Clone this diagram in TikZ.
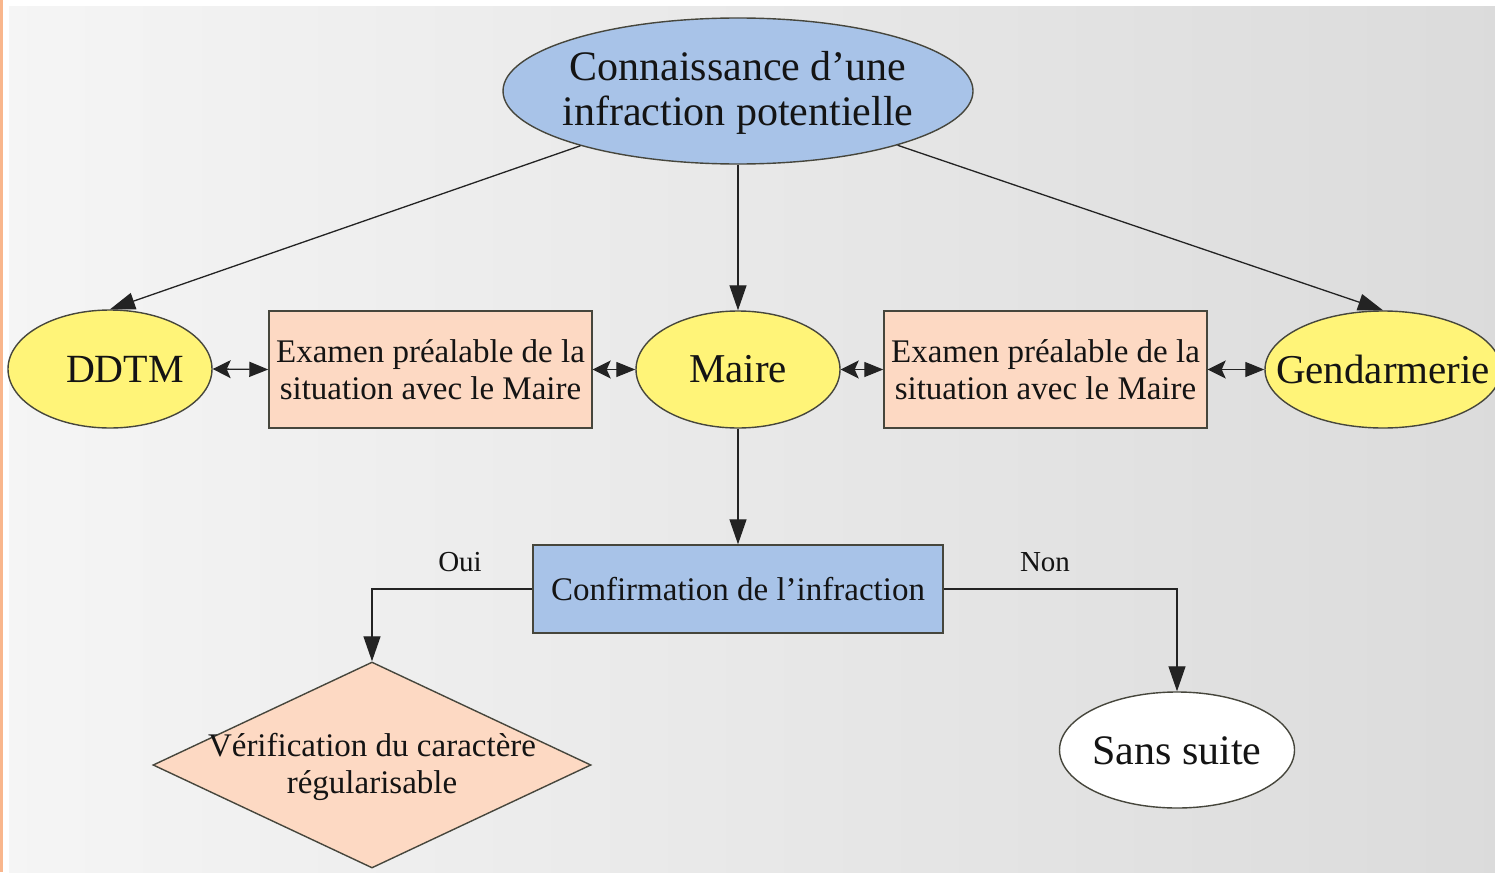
\documentclass[tikz,border=0pt]{standalone}
\usepackage{fontspec}
\setmainfont{Liberation Serif}
\usetikzlibrary{shapes.geometric,arrows.meta}
\definecolor{bluefill}{RGB}{168,195,232}
\definecolor{yellowfill}{RGB}{255,244,120}
\definecolor{peachfill}{RGB}{253,217,195}
\definecolor{edgecol}{RGB}{70,70,60}
\definecolor{linecol}{RGB}{35,35,35}
\definecolor{textcol}{RGB}{20,20,20}
\definecolor{bordercol}{RGB}{249,182,140}
\begin{document}
\begin{tikzpicture}[x=1pt,y=-1pt,
  outline/.style={draw=edgecol, line width=1.4pt},
  oval/.style={ellipse, outline, inner sep=0pt},
  box/.style={rectangle, outline, inner sep=0pt, align=center, text=textcol},
  bigtext/.style={text=textcol, align=center, inner sep=0pt, font=\fontsize{41}{45}\selectfont},
  midtext/.style={text=textcol, align=center, inner sep=0pt, font=\fontsize{33}{37}\selectfont},
  labeltext/.style={text=textcol, inner sep=0pt, font=\fontsize{29}{30}\selectfont},
  conn/.style={draw=linecol, line width=1.3pt, -{Triangle[length=25pt,width=17pt]}},
  both/.style={draw=linecol, line width=1.3pt, {Stealth[length=18pt,width=18pt,inset=4pt]}-{Triangle[length=19pt,width=15pt]}}
]
\useasboundingbox (0,0) rectangle (1495,872);
\fill[white] (0,0) rectangle (1495,872);
\shade[shading angle=100, left color=black!4, right color=black!14] (9,7) rectangle (1495,872);
\fill[bordercol] (0,0) rectangle (2.5,872);

% top ellipse
\node[oval, fill=bluefill, minimum width=470pt, minimum height=146pt] (top) at (738,91) {};
\node[bigtext, font=\fontsize{42}{45}\selectfont] (toptext) at (738,93) {Connaissance d’une\\infraction potentielle};

% middle row
\node[oval, fill=yellowfill, minimum width=204pt, minimum height=118pt] (ddtm) at (110,369) {};
\node[bigtext, font=\fontsize{40}{45}\selectfont] (ddtmtext) at (125,369) {DDTM};
\node[box, fill=peachfill, minimum width=323pt, minimum height=117pt, font=\fontsize{33}{37}\selectfont] (box1) at (430.5,369.5) {Examen préalable de la\\situation avec le Maire};
\node[oval, fill=yellowfill, minimum width=204pt, minimum height=117pt] (maire) at (738,369.5) {};
\node[bigtext] (mairetext) at (738,369) {Maire};
\node[box, fill=peachfill, minimum width=323pt, minimum height=117pt, font=\fontsize{33}{37}\selectfont] (box2) at (1045.5,369.5) {Examen préalable de la\\situation avec le Maire};
\node[oval, fill=yellowfill, minimum width=236pt, minimum height=117pt] (gend) at (1383,369.5) {};
\node[bigtext] (gendtext) at (1383,369) {Gendarmerie};

% confirmation
\node[box, fill=bluefill, minimum width=410pt, minimum height=88pt, font=\fontsize{33}{37}\selectfont] (confirm) at (738,589) {Confirmation de l’infraction};

% diamond
\node[diamond, outline, fill=peachfill, inner sep=0pt, minimum width=438pt, minimum height=206pt] (diam) at (372,765) {};
\node[midtext] (diamtext) at (372,767) {Vérification du caractère\\régularisable};

% sans suite
\node[oval, fill=white, minimum width=235pt, minimum height=116pt] (sans) at (1177,750) {};
\node[bigtext, font=\fontsize{42}{45}\selectfont] (sanstext) at (1177,751) {Sans suite};

% labels
\node[labeltext] (oui) at (460,562) {Oui};
\node[labeltext] (non) at (1045,562) {Non};

% connectors
\draw[conn] (top) -- (ddtm.north);
\draw[conn] (top) -- (maire.north);
\draw[conn] (top) -- (gend.north);
\draw[both] (ddtm.east) -- (box1.west);
\draw[both] (box1.east) -- (maire.west);
\draw[both] (maire.east) -- (box2.west);
\draw[both] (box2.east) -- (gend.west);
\draw[conn] (maire.south) -- (confirm.north);
\draw[conn] (confirm.west) -| (diam.north);
\draw[conn] (confirm.east) -| (sans.north);
\end{tikzpicture}
\end{document}
